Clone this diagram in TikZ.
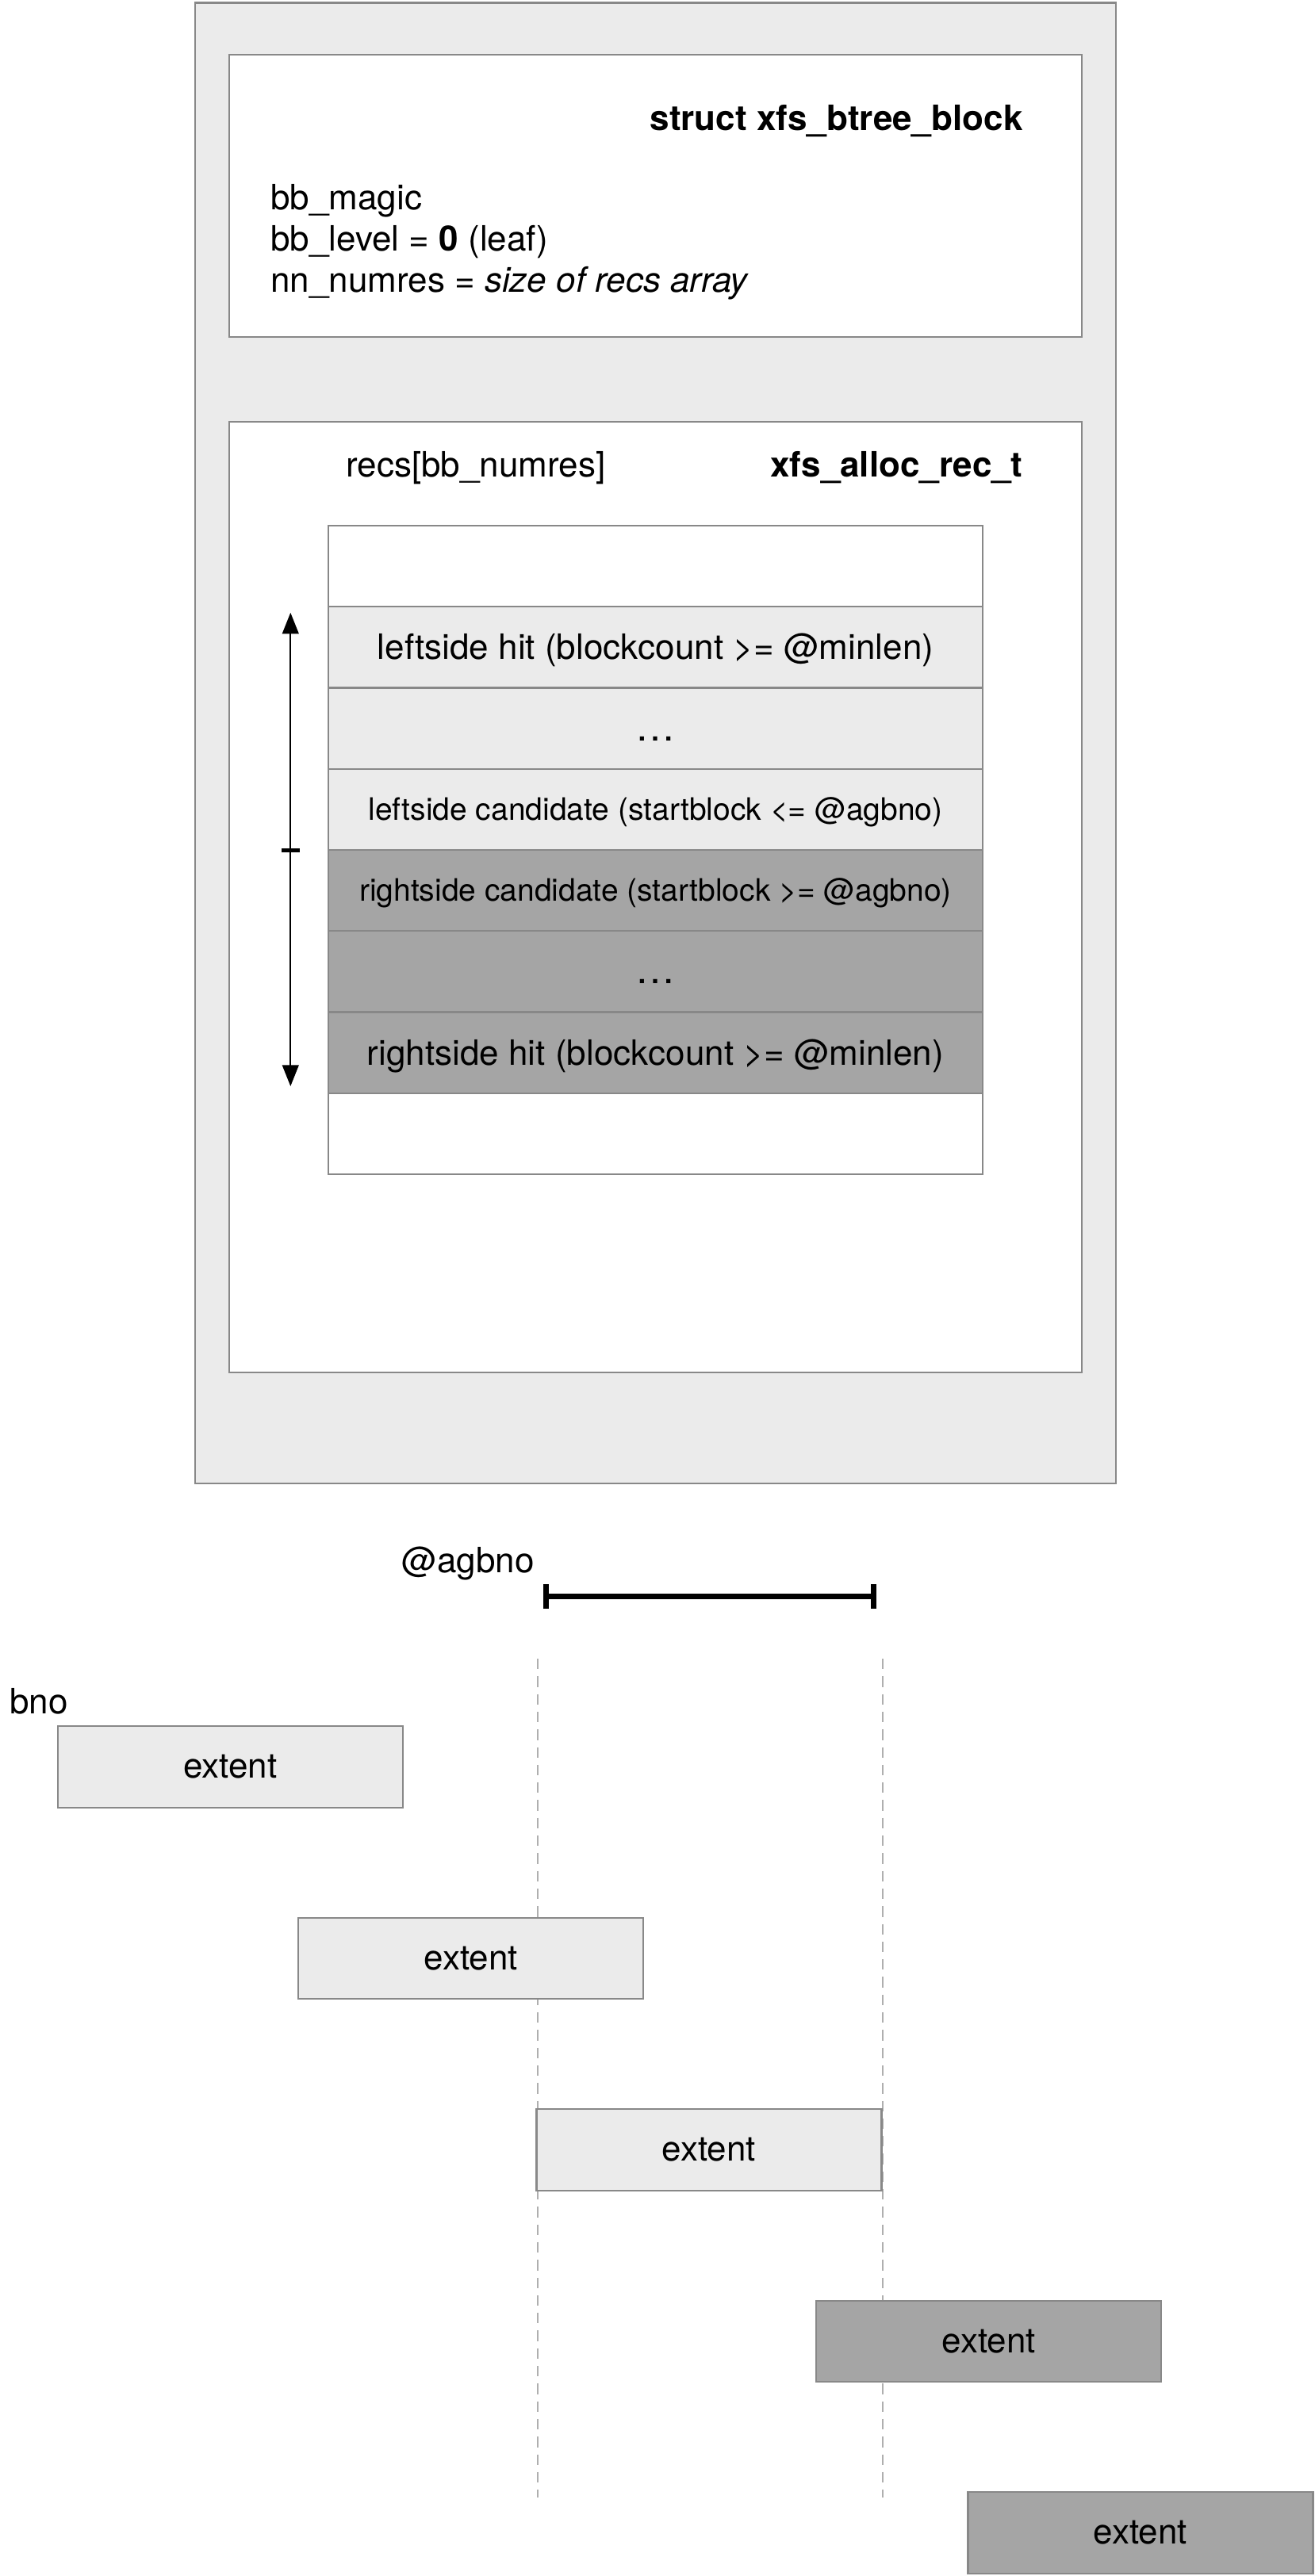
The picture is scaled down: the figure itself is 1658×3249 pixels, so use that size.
\documentclass[tikz,border=0pt]{standalone}
\usepackage{fontspec}
\setmainfont{TeX Gyre Heros}
\usetikzlibrary{arrows.meta}
\definecolor{lightfill}{HTML}{EBEBEB}
\definecolor{darkfill}{HTML}{A5A5A5}
\definecolor{strokegray}{HTML}{888888}
\definecolor{guidegray}{HTML}{AFAFAF}
\tikzset{
  frame/.style={draw=strokegray, line width=1.15pt, inner sep=0pt},
  rowbox/.style={draw=strokegray, line width=1.15pt, minimum width=412.5pt, minimum height=51.125pt, inner sep=0pt, text height=15.5pt, text depth=0pt, font=\fontsize{22}{26}\selectfont},
  smalltext/.style={font=\fontsize{19.5}{23}\selectfont, text height=13.5pt},
  extentbox/.style={draw=strokegray, line width=1.15pt, minimum width=217.5pt, minimum height=51.25pt, inner sep=0pt, text height=14pt, text depth=0pt, font=\fontsize{22}{26}\selectfont},
  lbl/.style={inner sep=0pt, font=\fontsize{22}{26}\selectfont},
  boldlbl/.style={inner sep=0pt, font=\fontsize{22}{26}\selectfont\bfseries},
  guide/.style={draw=guidegray, line width=1.1pt, dash pattern=on 6.65pt off 4.5pt},
}
\begin{document}
\begin{tikzpicture}[x=0.5pt,y=-0.5pt]
\useasboundingbox (0,0) rectangle (1658,3249);
% outer block
\node[frame, fill=lightfill, minimum width=580.5pt, minimum height=933.75pt] (outer) at (826.5,937.25) {};
\node[frame, fill=white, minimum width=537.5pt, minimum height=178pt] (hdr) at (826.5,247) {};
\node[frame, fill=white, minimum width=537.5pt, minimum height=599.5pt] (recsbox) at (826.5,1131.5) {};
% header texts
\node[boldlbl, anchor=base east] (title) at (1290,164) {struct xfs\_btree\_block};
\node[lbl, anchor=base west] (magic) at (341,264) {bb\_magic};
\node[lbl, anchor=base west] (level) at (341,316.5) {bb\_level = \textbf{0} (leaf)};
\node[lbl, anchor=base west] (numres) at (341,368) {nn\_numres = \textit{size of recs array}};
\node[lbl, anchor=base west] (recs) at (436,601) {recs[bb\_numres]};
\node[boldlbl, anchor=base east] (alloc) at (1290,601) {xfs\_alloc\_rec\_t};
% record rows
\node[rowbox, fill=white] (r0) at (826.5,714.1) {};
\node[rowbox, fill=lightfill] (r1) at (826.5,816.4) {leftside hit (blockcount >= @minlen)};
\node[rowbox, fill=lightfill] (r2) at (826.5,918.6) {\fontsize{25}{26}\selectfont …};
\node[rowbox, fill=lightfill, smalltext] (r3) at (826.5,1020.9) {leftside candidate (startblock <= @agbno)};
\node[rowbox, fill=darkfill, smalltext] (r4) at (826.5,1123.1) {rightside candidate (startblock >= @agbno)};
\node[rowbox, fill=darkfill] (r5) at (826.5,1225.4) {\fontsize{25}{26}\selectfont …};
\node[rowbox, fill=darkfill] (r6) at (826.5,1327.6) {rightside hit (blockcount >= @minlen)};
\node[rowbox, fill=white] (r7) at (826.5,1429.9) {};
% search arrow
\coordinate (atop) at (366.3,772.7);
\coordinate (abot) at (366.3,1370);
\coordinate (tickl) at (355.3,1072);
\coordinate (tickr) at (377.7,1072);
\draw[line width=1.1pt, {Triangle[length=13.3pt,width=10.3pt]}-{Triangle[length=13.3pt,width=10.3pt]}] (abot) -- (atop);
\draw[line width=2.5pt] (tickl) -- (tickr);
% agbno interval
\node[lbl, anchor=base east] (agbno) at (674,1983) {@agbno};
\coordinate (bl) at (688.4,2013.3);
\coordinate (br) at (1101.8,2013.3);
\coordinate (blt) at (688.4,1998);
\coordinate (blb) at (688.4,2028.6);
\coordinate (brt) at (1101.8,1998);
\coordinate (brb) at (1101.8,2028.6);
\draw[line width=3.5pt] (bl) -- (br);
\draw[line width=3.5pt] (blt) -- (blb);
\draw[line width=3.5pt] (brt) -- (brb);
% guides
\coordinate (g1t) at (678,2092);
\coordinate (g1b) at (678,3150);
\coordinate (g2t) at (1113.3,2092);
\coordinate (g2b) at (1113.3,3150);
\draw[guide] (g1t) -- (g1b);
\draw[guide] (g2t) -- (g2b);
% extents
\node[lbl, anchor=base west] (bno) at (12,2161) {bno};
\node[extentbox, fill=lightfill] (e1) at (290.3,2228.5) {extent};
\node[extentbox, fill=lightfill] (e2) at (593.7,2470) {extent};
\node[extentbox, fill=lightfill] (e3) at (894,2711.5) {extent};
\node[extentbox, fill=darkfill] (e4) at (1246.7,2953) {extent};
\node[extentbox, fill=darkfill] (e5) at (1438,3194.5) {extent};
\end{tikzpicture}
\end{document}
